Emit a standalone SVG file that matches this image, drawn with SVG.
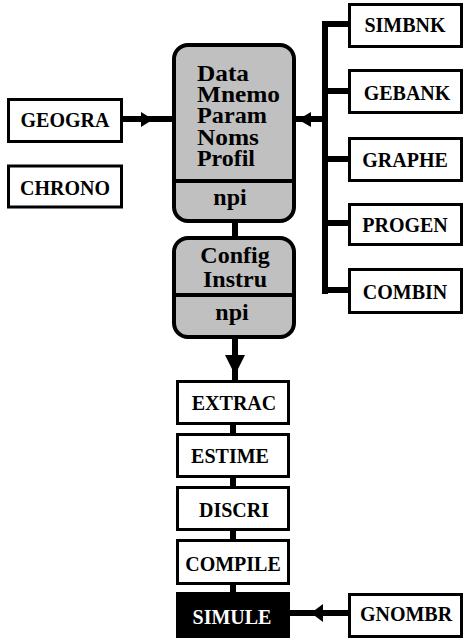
<svg xmlns="http://www.w3.org/2000/svg" width="474" height="644" viewBox="0 0 474 644">
<style>
.box{fill:#ffffff;stroke:#000;stroke-width:3}
.blk{fill:#000;stroke:#000;stroke-width:3}
.rbox{fill:#c0c0c0;stroke:#000;stroke-width:4}
.div{stroke:#000;stroke-width:4}
text{font-family:'Liberation Serif','Times New Roman',Times,serif;font-weight:bold}
.lbl{font-size:20px;fill:#000;text-anchor:middle}
.wl{fill:#fff}
.big{font-size:24px;fill:#000}
.ln{stroke:#000;stroke-width:6;fill:none}
.ah{fill:#000}
</style>
<rect width="474" height="644" fill="#fff"/>
<g id="connectors">
<line class="ln" x1="123" y1="119" x2="173" y2="119"/>
<polygon class="ah" points="141,112 153,119.5 141,127"/>
<line class="ln" x1="325" y1="21" x2="325" y2="294"/>
<line class="ln" x1="322" y1="24" x2="349" y2="24"/>
<line class="ln" x1="322" y1="91" x2="349" y2="91"/>
<line class="ln" x1="322" y1="159" x2="349" y2="159"/>
<line class="ln" x1="322" y1="223" x2="349" y2="223"/>
<line class="ln" x1="322" y1="290" x2="349" y2="290"/>
<line class="ln" x1="295" y1="119" x2="325" y2="119"/>
<polygon class="ah" points="311,112 298,119.5 311,127"/>
<line class="ln" x1="235" y1="222" x2="235" y2="237"/>
<line class="ln" x1="235" y1="338" x2="235" y2="380"/>
<polygon class="ah" points="225,355 245,355 235,375"/>
<line class="ln" x1="233" y1="424" x2="233" y2="433"/>
<line class="ln" x1="233" y1="477" x2="233" y2="486"/>
<line class="ln" x1="233" y1="530" x2="233" y2="539"/>
<line class="ln" x1="233" y1="584" x2="233" y2="593"/>
<line class="ln" x1="289" y1="613" x2="349" y2="613"/>
<polygon class="ah" points="323,604 311,613 323,622"/>
</g>
<g id="data">
<rect class="rbox" x="174" y="45" width="120" height="176" rx="14"/>
<line class="div" x1="174" y1="181" x2="294" y2="181"/>
<text class="big" x="197" y="81" textLength="52" lengthAdjust="spacingAndGlyphs">Data</text>
<text class="big" x="197" y="102" textLength="83" lengthAdjust="spacingAndGlyphs">Mnemo</text>
<text class="big" x="197" y="123" textLength="70" lengthAdjust="spacingAndGlyphs">Param</text>
<text class="big" x="197" y="145" textLength="62" lengthAdjust="spacingAndGlyphs">Noms</text>
<text class="big" x="197" y="166" textLength="58" lengthAdjust="spacingAndGlyphs">Profil</text>
<text class="big" x="230" y="205" text-anchor="middle">npi</text>
</g>
<g id="config">
<rect class="rbox" x="174" y="238" width="120" height="99" rx="14"/>
<line class="div" x1="174" y1="295" x2="294" y2="295"/>
<text class="big" x="235" y="263" text-anchor="middle">Config</text>
<text class="big" x="235" y="287" text-anchor="middle">Instru</text>
<text class="big" x="232" y="320" text-anchor="middle">npi</text>
</g>
<g id="geogra"><rect class="box" x="8.5" y="99.5" width="113" height="42"/><text class="lbl" x="65" y="127">GEOGRA</text></g>
<g id="chrono"><rect class="box" x="8.5" y="166" width="113" height="41"/><text class="lbl" x="65" y="195">CHRONO</text></g>
<g id="simbnk"><rect class="box" x="349.5" y="4.5" width="112" height="42"/><text class="lbl" x="405" y="32">SIMBNK</text></g>
<g id="gebank"><rect class="box" x="349.5" y="70.5" width="112" height="42"/><text class="lbl" x="407" y="100">GEBANK</text></g>
<g id="graphe"><rect class="box" x="349.5" y="138.5" width="112" height="42"/><text class="lbl" x="405" y="167">GRAPHE</text></g>
<g id="progen"><rect class="box" x="349.5" y="204.5" width="112" height="40"/><text class="lbl" x="405" y="232">PROGEN</text></g>
<g id="combin"><rect class="box" x="349.5" y="269.5" width="112" height="43"/><text class="lbl" x="405" y="299">COMBIN</text></g>
<g id="extrac"><rect class="box" x="177.5" y="381.5" width="111" height="42"/><text class="lbl" x="234" y="410">EXTRAC</text></g>
<g id="estime"><rect class="box" x="177.5" y="434.5" width="111" height="42"/><text class="lbl" x="230" y="463">ESTIME</text></g>
<g id="discri"><rect class="box" x="177.5" y="487.5" width="111" height="42"/><text class="lbl" x="234" y="517">DISCRI</text></g>
<g id="compile"><rect class="box" x="177.5" y="540.5" width="111" height="43"/><text class="lbl" x="233" y="571">COMPILE</text></g>
<g id="simule"><rect class="blk" x="177.5" y="593.5" width="111" height="43"/><text class="lbl wl" x="232" y="624">SIMULE</text></g>
<g id="gnombr"><rect class="box" x="349.5" y="594.5" width="112" height="42"/><text class="lbl" x="406" y="621">GNOMBR</text></g>
</svg>
